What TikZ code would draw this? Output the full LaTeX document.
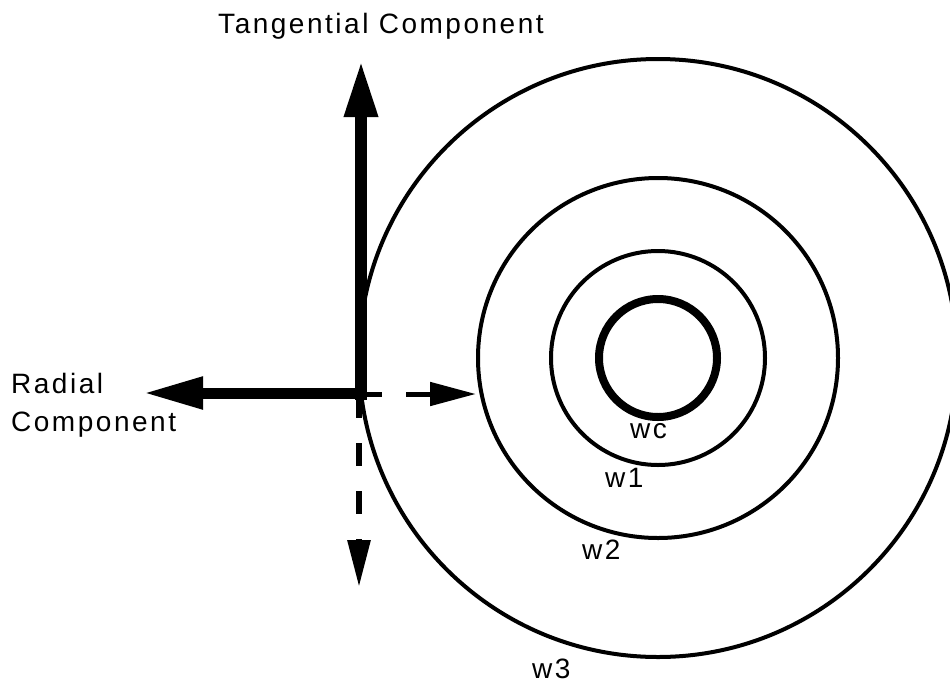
\documentclass[tikz,border=0pt]{standalone}
\usepackage{fontspec}
\setmainfont{Liberation Sans}[LetterSpace=9]
\usetikzlibrary{arrows.meta}
\begin{document}
\begin{tikzpicture}[x=1pt,y=-1pt,
  ring/.style={draw,circle,line width=4pt,inner sep=0pt},
  lbl/.style={inner sep=0pt,anchor=base west,font=\fontsize{28}{32}\selectfont},
]
\useasboundingbox (0,0) rectangle (950,683);
\clip (0,0) rectangle (950,683);
\coordinate (C) at (658,358);
% circles
\node[ring,minimum size=598pt] (w3c) at (C) {};
\node[ring,minimum size=360pt] (w2c) at (C) {};
\node[ring,minimum size=214pt] (w1c) at (C) {};
\node[ring,line width=8pt,minimum size=118pt] (wcc) at (C) {};
% coordinates for arrows
\coordinate (vb) at (361,400);
\coordinate (vt) at (361,60);
\coordinate (hs) at (355,393);
\coordinate (hl) at (143,393);
\coordinate (ds) at (358,394);
\coordinate (de) at (w2c.west);
\coordinate (vs) at (359,395);
\coordinate (ve) at (359,587);
% solid arrows
\draw[line width=12pt,-{Triangle[length=57pt,width=31pt]}] (vb) -- (vt);
\draw[line width=11pt,-{Triangle[length=60pt,width=30pt]}] (hs) -- (hl);
% dashed arrows
\draw[line width=5pt,dash pattern=on 24pt off 24pt,-{Triangle[length=46pt,width=23pt]}] (ds) -- (ds -| de);
\draw[line width=6pt,dash pattern=on 23pt off 25pt,-{Triangle[length=47pt,width=22pt]}] (vs) -- (ve);
% labels
\node[lbl] (tang) at (218,33) {Tangential Component};
\node[lbl] (rad) at (11,393) {Radial};
\node[lbl] (comp) at (11,431) {Component};
\node[lbl] (wc) at (630,438) {wc};
\node[lbl] (w1) at (605,487) {w1};
\node[lbl] (w2) at (582,559) {w2};
\node[lbl] (w3) at (532,678) {w3};
\end{tikzpicture}
\end{document}
